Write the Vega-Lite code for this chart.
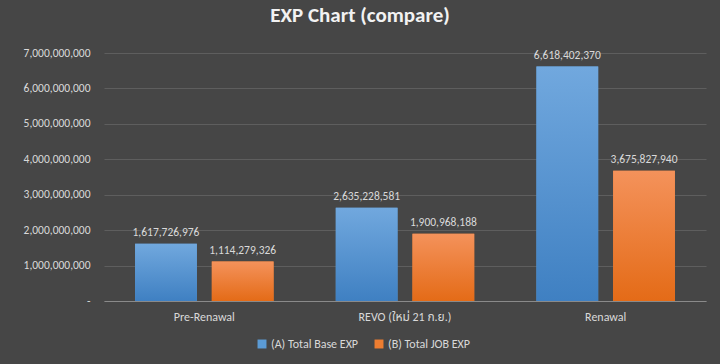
{
  "$schema": "https://vega.github.io/schema/vega-lite/v6.json",
  "width": 602,
  "height": 248,
  "autosize": {"type": "none"},
  "padding": {"left": 104, "top": 53, "right": 14, "bottom": 63},
  "background": "#464646",
  "title": {
    "text": "EXP Chart (compare)",
    "color": "#f2f2f2",
    "font": "Carlito, Lato, sans-serif",
    "fontSize": 21,
    "fontWeight": "bold",
    "anchor": "middle",
    "frame": "group",
    "dx": -45,
    "offset": 21
  },
  "config": {
    "view": {"stroke": null},
    "font": "Carlito, Lato, Noto Sans Thai, sans-serif"
  },
  "data": {
    "values": [
      {"group": "Pre-Renawal", "series": "(A) Total Base EXP", "value": 1617726976},
      {"group": "Pre-Renawal", "series": "(B) Total JOB EXP", "value": 1114279326},
      {"group": "REVO (ใหม่ 21 ก.ย.)", "series": "(A) Total Base EXP", "value": 2635228581},
      {"group": "REVO (ใหม่ 21 ก.ย.)", "series": "(B) Total JOB EXP", "value": 1900968188},
      {"group": "Renawal", "series": "(A) Total Base EXP", "value": 6618402370},
      {"group": "Renawal", "series": "(B) Total JOB EXP", "value": 3675827940}
    ]
  },
  "encoding": {
    "x": {
      "field": "group",
      "type": "nominal",
      "sort": null,
      "scale": {"paddingInner": 0.31, "paddingOuter": 0.155},
      "axis": {
        "title": null,
        "labelAngle": 0,
        "labelColor": "#d9d9d9",
        "labelFontSize": 12,
        "labelPadding": 10,
        "domainColor": "#8a8a8a",
        "domainWidth": 1,
        "ticks": false
      }
    },
    "xOffset": {
      "field": "series",
      "type": "nominal",
      "scale": {"paddingInner": 0.195, "paddingOuter": 0}
    },
    "y": {
      "field": "value",
      "type": "quantitative",
      "scale": {"domain": [0, 7000000000], "nice": false},
      "axis": {
        "title": null,
        "values": [0, 1000000000, 2000000000, 3000000000, 4000000000, 5000000000, 6000000000, 7000000000],
        "labelExpr": "datum.value == 0 ? '-    ' : format(datum.value, ',')",
        "labelColor": "#d9d9d9",
        "labelFontSize": 11.5,
        "labelPadding": 14,
        "domain": false,
        "ticks": false,
        "gridColor": "#5e5e5e",
        "gridWidth": 1
      }
    }
  },
  "layer": [
    {
      "mark": {"type": "bar"},
      "encoding": {
        "color": {
          "field": "series",
          "type": "nominal",
          "scale": {"range": ["#5b9bd5", "#ed7d31"]},
          "legend": {
            "title": null,
            "orient": "none",
            "direction": "horizontal",
            "legendX": 152,
            "legendY": 285,
            "symbolType": "square",
            "symbolSize": 80,
            "symbolStrokeWidth": 0,
            "labelColor": "#d9d9d9",
            "labelFontSize": 12,
            "columnPadding": 14,
            "labelOffset": 3
          }
        }
      }
    },
    {
      "transform": [{"filter": "datum.series == '(A) Total Base EXP'"}],
      "mark": {
        "type": "bar",
        "fill": {
          "gradient": "linear", "x1": 0, "y1": 0, "x2": 0, "y2": 1,
          "stops": [{"offset": 0, "color": "#71a8de"}, {"offset": 1, "color": "#3f80c2"}]
        }
      }
    },
    {
      "transform": [{"filter": "datum.series == '(B) Total JOB EXP'"}],
      "mark": {
        "type": "bar",
        "fill": {
          "gradient": "linear", "x1": 0, "y1": 0, "x2": 0, "y2": 1,
          "stops": [{"offset": 0, "color": "#f4925b"}, {"offset": 1, "color": "#e46b17"}]
        }
      }
    },
    {
      "mark": {"type": "text", "baseline": "bottom", "dy": -6, "color": "#d9d9d9", "fontSize": 11.5},
      "encoding": {
        "text": {"field": "value", "type": "quantitative", "format": ","}
      }
    }
  ]
}
